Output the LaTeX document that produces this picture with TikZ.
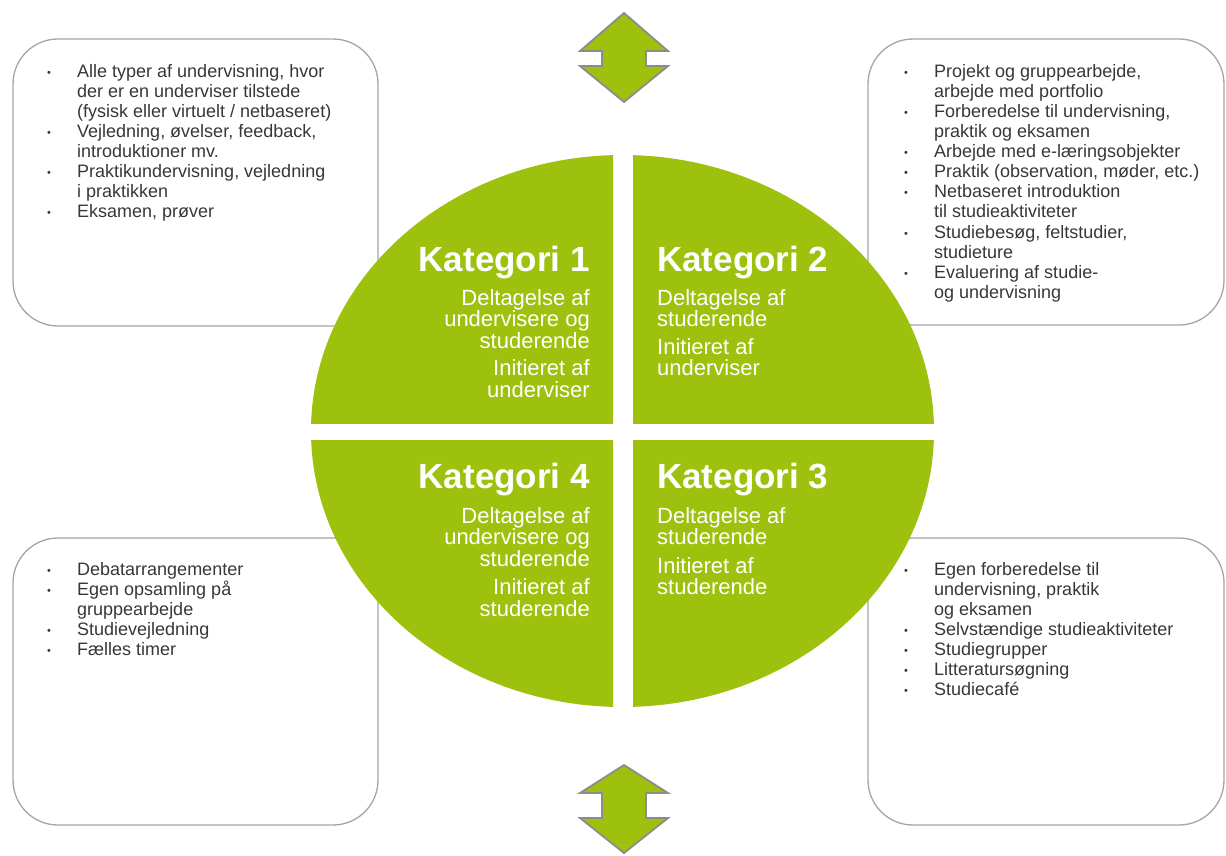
\documentclass[tikz,border=0pt]{standalone}
\usepackage{fontspec}
\setmainfont{Liberation Sans}
\usepackage{tikz}
\usetikzlibrary{positioning}
\definecolor{katgreen}{RGB}{157,193,13}
\definecolor{boxgray}{RGB}{165,165,165}
\definecolor{arrgray}{RGB}{140,140,140}
\definecolor{txtgray}{RGB}{55,55,55}
\tikzset{
  listbox/.style={draw=boxgray, line width=1.3pt, rounded corners=45pt},
  listtext/.style={anchor=north west, align=left, inner sep=0pt, text=txtgray,
    font=\fontsize{18}{20.1}\selectfont},
  kattitle/.style={inner sep=0pt, text=white, font=\fontsize{35}{38}\selectfont\bfseries},
  kattext/.style={inner sep=0pt, text=white, font=\fontsize{22}{21.6}\selectfont},
  updown/.style={fill=katgreen, draw=arrgray, line width=1.8pt, line join=miter},
}
\newcommand{\bul}{\makebox[30pt][l]{\raisebox{1pt}{\fontsize{11}{11}\selectfont\textbullet}}}
\newcommand{\cont}{\hspace*{30pt}}

\begin{document}
\begin{tikzpicture}[x=1pt, y=-1pt]
    \useasboundingbox (0,0) rectangle (1226,856);

    % the four list boxes
    \draw[listbox] (13,39) rectangle (378,326);
    \draw[listbox] (868,39) rectangle (1224,325);
    \draw[listbox] (13,538) rectangle (378,825);
    \draw[listbox] (868,538) rectangle (1224,825);

    % the cut ellipse
    \coordinate (ctr) at (622.5,431);
    \foreach \xa/\xb/\ya/\yb in {300/613/140/423, 633/950/140/423, 300/613/440/720, 633/950/440/720} {
      \begin{scope}
        \clip (\xa,\ya) rectangle (\xb,\yb);
        \fill[katgreen] (ctr) ellipse [x radius=311.5, y radius=276];
      \end{scope}
    }

    % double arrows top and bottom
    \foreach \t/\a/\b/\e in {13/51/66/102, 765/793/818/853} {
      \draw[updown] (624,\t) -- (580,\a) -- (602,\a) -- (602,\b) -- (580,\b) -- (624,\e)
        -- (668,\b) -- (646,\b) -- (646,\a) -- (668,\a) -- cycle;
    }

    % categories
    \node[kattitle, anchor=base east] (k1) at (590,271) {Kategori 1};
    \node[kattext, anchor=north east, align=right] (k1txt) at (590,289)
      {Deltagelse af\\undervisere og\\studerende\\[6pt]Initieret af\\underviser};
    \node[kattitle, anchor=base west] (k2) at (657,271) {Kategori 2};
    \node[kattext, anchor=north west, align=left] (k2txt) at (657,289)
      {Deltagelse af\\studerende\\[6pt]Initieret af\\underviser};
    \node[kattitle, anchor=base east] (k4) at (590,488) {Kategori 4};
    \node[kattext, anchor=north east, align=right] (k4txt) at (590,507)
      {Deltagelse af\\undervisere og\\studerende\\[7pt]Initieret af\\studerende};
    \node[kattitle, anchor=base west] (k3) at (657,488) {Kategori 3};
    \node[kattext, anchor=north west, align=left] (k3txt) at (657,507)
      {Deltagelse af\\studerende\\[7pt]Initieret af\\studerende};

    % lists in the boxes
    \node[listtext] (list1) at (47,64) {%
      \bul Alle typer af undervisning, hvor\\
      \cont der er en underviser tilstede\\
      \cont (fysisk eller virtuelt / netbaseret)\\
      \bul Vejledning, øvelser, feedback,\\
      \cont introduktioner mv.\\
      \bul Praktikundervisning, vejledning\\
      \cont i praktikken\\
      \bul Eksamen, prøver};
    \node[listtext] (list2) at (904,64) {%
      \bul Projekt og gruppearbejde,\\
      \cont arbejde med portfolio\\
      \bul Forberedelse til undervisning,\\
      \cont praktik og eksamen\\
      \bul Arbejde med e-læringsobjekter\\
      \bul Praktik (observation, møder, etc.)\\
      \bul Netbaseret introduktion\\
      \cont til studieaktiviteter\\
      \bul Studiebesøg, feltstudier,\\
      \cont studieture\\
      \bul Evaluering af studie-\\
      \cont og undervisning};
    \node[listtext] (list4) at (47,562) {%
      \bul Debatarrangementer\\
      \bul Egen opsamling på\\
      \cont gruppearbejde\\
      \bul Studievejledning\\
      \bul Fælles timer};
    \node[listtext] (list3) at (904,562) {%
      \bul Egen forberedelse til\\
      \cont undervisning, praktik\\
      \cont og eksamen\\
      \bul Selvstændige studieaktiviteter\\
      \bul Studiegrupper\\
      \bul Litteratursøgning\\
      \bul Studiecafé};
\end{tikzpicture}
\end{document}
